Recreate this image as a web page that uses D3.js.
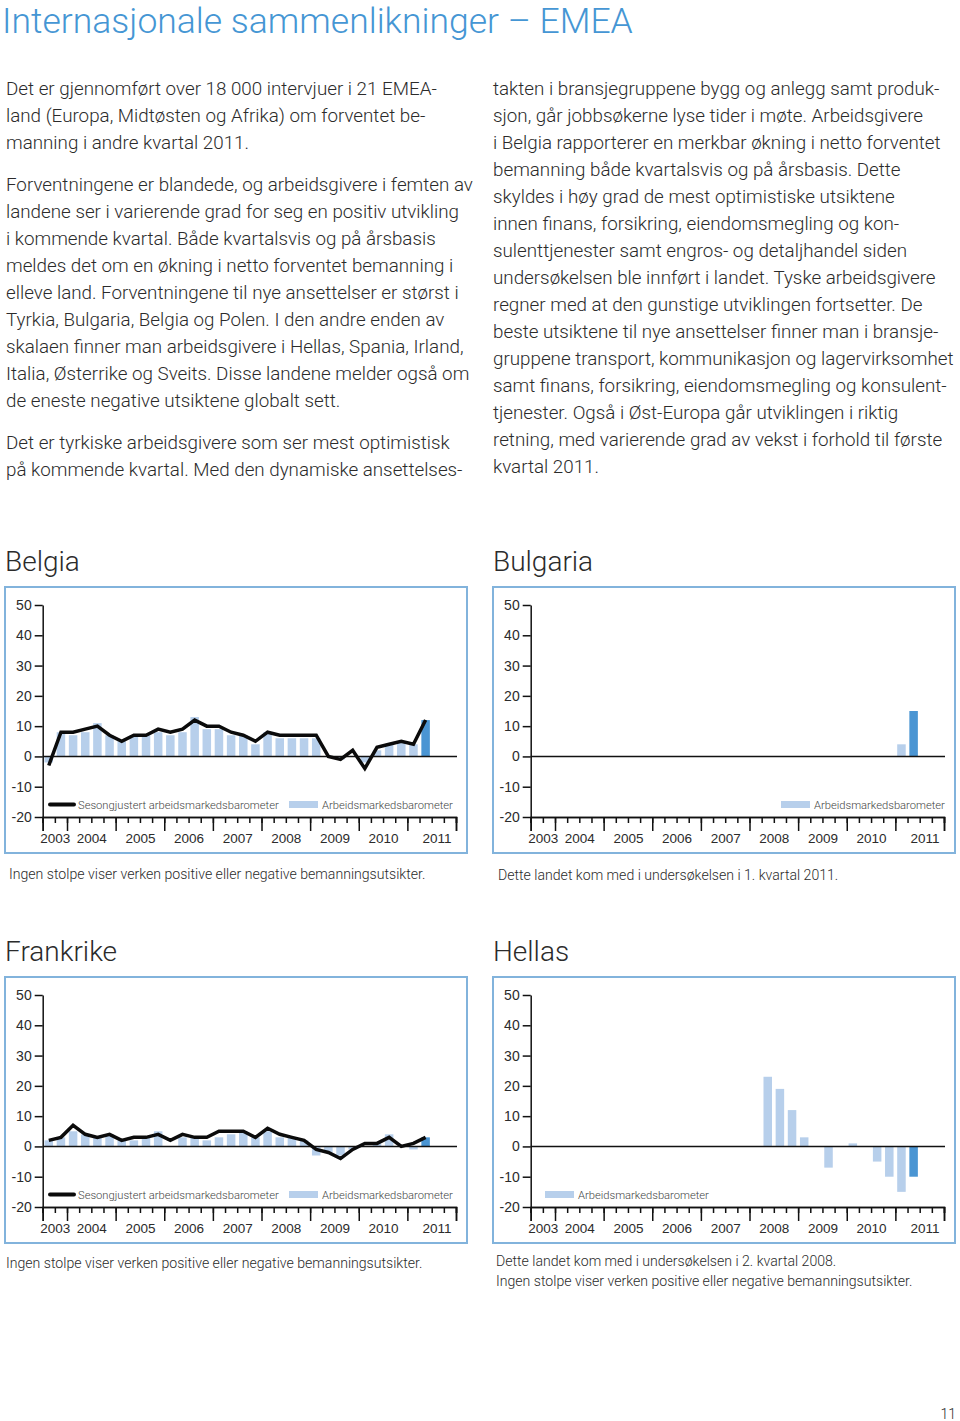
<!DOCTYPE html>
<html>
<head>
<meta charset="utf-8">
<script src="https://cdn.jsdelivr.net/npm/d3@7"></script>
<style>
  body { margin: 0; background: #fff; }
  svg { display: block; font-family: Roboto, "Liberation Sans", sans-serif; font-weight: 300; }
</style>
</head>
<body>
<svg id="page" width="960" height="1421"></svg>
<script>
// quarter slots on the x axis (2003 K3 .. 2011 K4)
const quarters = ["2003K3","2003K4",
  "2004K1","2004K2","2004K3","2004K4",
  "2005K1","2005K2","2005K3","2005K4",
  "2006K1","2006K2","2006K3","2006K4",
  "2007K1","2007K2","2007K3","2007K4",
  "2008K1","2008K2","2008K3","2008K4",
  "2009K1","2009K2","2009K3","2009K4",
  "2010K1","2010K2","2010K3","2010K4",
  "2011K1","2011K2","2011K3","2011K4"];
const years = [2003, 2004, 2005, 2006, 2007, 2008, 2009, 2010, 2011];
// where each year label sits, in quarter units from the start of the axis
const yearLabelPos = [1, 4, 8, 12, 16, 20, 24, 28, 32.4];
const yTicks = [-20, -10, 0, 10, 20, 30, 40, 50];

// series (netto forventet bemanning, %)
const belgiaRaw = [-2,8,7,8,11,7,5,7,7,8,7,8,13,9,9,7,7,4,8,6,6,6,6,0,-1,0,-2,2,4,5,4,12];
const belgiaSA  = [-3,8,8,9,10,7,5,7,7,9,8,9,12,10,10,8,7,5,8,7,7,7,7,0,-1,2,-4,3,4,5,4,12];
const bulgariaRaw = [null,null,null,null,null,null,null,null,null,null,null,null,null,null,null,
  null,null,null,null,null,null,null,null,null,null,null,null,null,null,null,4,15];
const frankrikeRaw = [2,3,5,4,3,4,2,2,3,5,0,3,3,2,3,4,5,3,5,3,3,2,-3,-2,-3,-1,0,1,4,0,-1,3];
const frankrikeSA  = [2,3,7,4,3,4,2,3,3,4,2,4,3,3,5,5,5,3,6,4,3,2,-1,-2,-4,-1,1,1,3,0,1,3];
const hellasRaw = [null,null,null,null,null,null,null,null,null,null,null,null,null,null,null,
  null,null,null,null,23,19,12,3,0,-7,0,1,0,-5,-10,-15,-10];

const leftText = [
  ["Det er gjennomført over 18 000 intervjuer i 21 EMEA-",
   "land (Europa, Midtøsten og Afrika) om forventet be-",
   "manning i andre kvartal 2011."],
  ["Forventningene er blandede, og arbeidsgivere i femten av",
   "landene ser i varierende grad for seg en positiv utvikling",
   "i kommende kvartal. Både kvartalsvis og på årsbasis",
   "meldes det om en økning i netto forventet bemanning i",
   "elleve land. Forventningene til nye ansettelser er størst i",
   "Tyrkia, Bulgaria, Belgia og Polen. I den andre enden av",
   "skalaen finner man arbeidsgivere i Hellas, Spania, Irland,",
   "Italia, Østerrike og Sveits. Disse landene melder også om",
   "de eneste negative utsiktene globalt sett."],
  ["Det er tyrkiske arbeidsgivere som ser mest optimistisk",
   "på kommende kvartal. Med den dynamiske ansettelses-"]
];
const rightText = [
  ["takten i bransjegruppene bygg og anlegg samt produk-",
   "sjon, går jobbsøkerne lyse tider i møte. Arbeidsgivere",
   "i Belgia rapporterer en merkbar økning i netto forventet",
   "bemanning både kvartalsvis og på årsbasis. Dette",
   "skyldes i høy grad de mest optimistiske utsiktene",
   "innen finans, forsikring, eiendomsmegling og kon-",
   "sulenttjenester samt engros- og detaljhandel siden",
   "undersøkelsen ble innført i landet. Tyske arbeidsgivere",
   "regner med at den gunstige utviklingen fortsetter. De",
   "beste utsiktene til nye ansettelser finner man i bransje-",
   "gruppene transport, kommunikasjon og lagervirksomhet",
   "samt finans, forsikring, eiendomsmegling og konsulent-",
   "tjenester. Også i Øst-Europa går utviklingen i riktig",
   "retning, med varierende grad av vekst i forhold til første",
   "kvartal 2011."]
];

const NO_BAR = "Ingen stolpe viser verken positive eller negative bemanningsutsikter.";

const BAR_LIGHT = "#b7cfeb";
const BAR_DARK = "#4a95d3";
const FRAME = "#82b3dc";
const TEXT = "#2b2b2b";

const svg = d3.select("#page");

// page title
svg.append("text")
  .attr("x", 2).attr("y", 33)
  .attr("font-size", 35.5)
  .attr("fill", "#4596d4")
  .text("Internasjonale sammenlikninger – EMEA");

// two text columns
function writeColumn(paragraphs, x, y0) {
  let y = y0;
  paragraphs.forEach(p => {
    p.forEach(line => {
      svg.append("text").attr("x", x).attr("y", y)
        .attr("font-size", 18.8).attr("fill", TEXT).text(line);
      y += 27;
    });
    y += 15;
  });
}
writeColumn(leftText, 6, 95);
writeColumn(rightText, 493, 95);

function drawChart(o) {
  const g = svg.append("g").attr("transform", `translate(${o.x},${o.y})`);

  g.append("text").attr("x", 0).attr("y", -16)
    .attr("font-size", 28).attr("fill", TEXT).text(o.title);

  g.append("rect")
    .attr("x", 0).attr("y", 0).attr("width", 462).attr("height", 266)
    .attr("fill", "none").attr("stroke", FRAME).attr("stroke-width", 2);

  const x0 = 37.7, x1 = 451;
  const xq = d3.scaleLinear().domain([0, quarters.length]).range([x0, x1]);
  const xb = d3.scaleBand().domain(quarters).range([x0, x1]).paddingInner(0.3).paddingOuter(0.15);
  const y = d3.scaleLinear().domain([-20, 50]).range([230, 18]);

  // y axis
  const ya = g.append("g").attr("transform", `translate(${x0},0)`)
    .call(d3.axisLeft(y).tickValues(yTicks).tickSize(8).tickSizeOuter(0).tickPadding(3)
      .tickFormat(d => String(d)));
  ya.selectAll("text").attr("font-size", 14).attr("font-family", null).attr("fill", TEXT);
  ya.selectAll("line, path").attr("stroke", "#111").attr("stroke-width", 1.5);

  // x axis: quarter ticks, year ticks, year labels
  const xAxisG = g.append("g").attr("transform", `translate(0,${y(-20)})`);
  xAxisG.append("g")
    .call(d3.axisBottom(xq).tickValues(d3.range(0, quarters.length + 1)).tickSize(6).tickFormat(""));
  const yearStarts = quarters.map((q, i) => q.endsWith("K1") ? i : null).filter(v => v !== null);
  xAxisG.append("g")
    .call(d3.axisBottom(xq).tickValues([0, ...yearStarts, quarters.length]).tickSize(14).tickFormat(""));
  const labels = xAxisG.append("g")
    .call(d3.axisBottom(xq).tickValues(yearLabelPos).tickSize(0).tickPadding(16)
      .tickFormat((d, i) => years[i]));
  labels.select(".domain").remove();
  labels.selectAll("text").attr("font-size", 13.5).attr("font-family", null).attr("fill", TEXT);
  xAxisG.selectAll("line, path").attr("stroke", "#111").attr("stroke-width", 1.5);

  // bars
  const rows = quarters.slice(0, o.raw.length).map((q, i) => ({ q, v: o.raw[i], last: i === o.raw.length - 1 }))
    .filter(d => d.v !== null && d.v !== 0);
  g.append("g").selectAll("rect").data(rows).enter().append("rect")
    .attr("x", d => xb(d.q))
    .attr("width", xb.bandwidth())
    .attr("y", d => y(Math.max(0, d.v)))
    .attr("height", d => Math.abs(y(d.v) - y(0)))
    .attr("fill", d => d.last ? BAR_DARK : BAR_LIGHT);

  // zero line
  g.append("line").attr("x1", x0).attr("x2", x1 + 1)
    .attr("y1", y(0)).attr("y2", y(0))
    .attr("stroke", "#111").attr("stroke-width", 1.5);

  // seasonally adjusted line
  if (o.sa) {
    const line = d3.line()
      .x((d, i) => xb(quarters[i]) + xb.bandwidth() / 2)
      .y(d => y(d));
    g.append("path").datum(o.sa).attr("d", line)
      .attr("fill", "none").attr("stroke", "#0b0b0b")
      .attr("stroke-width", 3.5).attr("stroke-linejoin", "miter");
  }

  // legend
  const ly = 217.5;
  if (o.legendLine !== undefined) {
    g.append("line").attr("x1", o.legendLine).attr("x2", o.legendLine + 24)
      .attr("y1", ly).attr("y2", ly).attr("stroke", "#0b0b0b").attr("stroke-width", 4)
      .attr("stroke-linecap", "round");
    g.append("text").attr("x", o.legendLine + 28).attr("y", ly + 4)
      .attr("font-size", 11.2).attr("fill", "#444").text("Sesongjustert arbeidsmarkedsbarometer");
  }
  g.append("rect").attr("x", o.legendBar).attr("y", ly - 3.5).attr("width", 29).attr("height", 7)
    .attr("fill", BAR_LIGHT);
  g.append("text").attr("x", o.legendBar + 33).attr("y", ly + 4)
    .attr("font-size", 11.2).attr("fill", "#444").text("Arbeidsmarkedsbarometer");

  // caption under the frame
  o.notes.forEach((t, i) => {
    g.append("text").attr("x", o.noteX).attr("y", o.noteY + i * 20)
      .attr("font-size", 14.1).attr("fill", TEXT).text(t);
  });
}

drawChart({ title: "Belgia", x: 5, y: 587, raw: belgiaRaw, sa: belgiaSA,
  legendLine: 45, legendBar: 284, notes: [NO_BAR], noteX: 4, noteY: 292 });
drawChart({ title: "Bulgaria", x: 493, y: 587, raw: bulgariaRaw,
  legendBar: 288, notes: ["Dette landet kom med i undersøkelsen i 1. kvartal 2011."], noteX: 5, noteY: 293 });
drawChart({ title: "Frankrike", x: 5, y: 977, raw: frankrikeRaw, sa: frankrikeSA,
  legendLine: 45, legendBar: 284, notes: [NO_BAR], noteX: 1, noteY: 291 });
drawChart({ title: "Hellas", x: 493, y: 977, raw: hellasRaw,
  legendBar: 52, notes: ["Dette landet kom med i undersøkelsen i 2. kvartal 2008.", NO_BAR], noteX: 3, noteY: 289 });

// page number
svg.append("text").attr("x", 956).attr("y", 1419).attr("text-anchor", "end")
  .attr("font-size", 14).attr("fill", TEXT).text("11");
</script>
</body>
</html>
